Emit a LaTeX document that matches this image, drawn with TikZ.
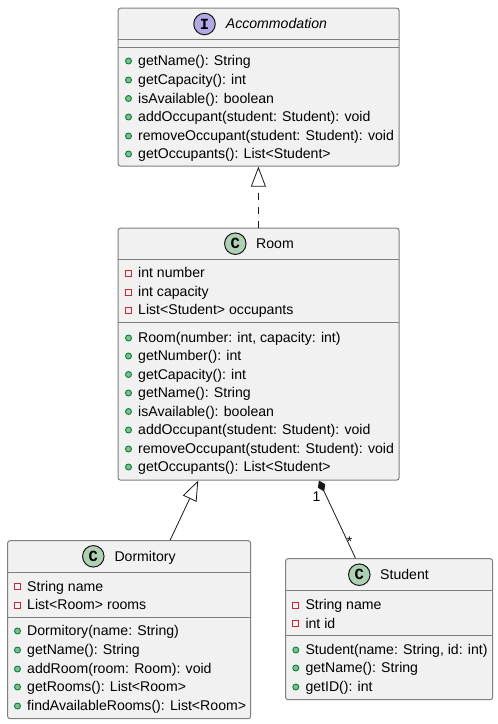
\documentclass[tikz,border=0pt]{standalone}
\usepackage{fontspec}
\setmainfont{Liberation Sans}
\setmonofont{Liberation Mono}
\usetikzlibrary{arrows.meta}
\definecolor{boxfill}{HTML}{F1F1F1}
\definecolor{boxline}{HTML}{7F7F7F}
\definecolor{ink}{HTML}{181818}
\definecolor{classicon}{HTML}{ADD1B2}
\definecolor{ifaceicon}{HTML}{B4A7E5}
\definecolor{pubfill}{HTML}{84BE84}
\definecolor{publine}{HTML}{038048}
\definecolor{privline}{HTML}{C82930}
\tikzset{
  classbox/.style={draw=boxline,fill=boxfill,line width=1pt,rounded corners=2.5pt,inner sep=0pt,anchor=north west},
  sepline/.style={draw=boxline,line width=1pt},
  badge/.style={circle,draw=ink,line width=1pt,minimum size=21.5pt,inner sep=0pt,font=\fontsize{15.5}{16}\selectfont\bfseries\ttfamily},
  title/.style={inner sep=0pt,anchor=base west,font=\fontsize{14.1}{15}\selectfont,text=black},
  rowtext/.style={inner sep=0pt,anchor=base west,font=\fontsize{14.1}{15}\selectfont,text=black},
  pubdot/.style={circle,draw=publine,fill=pubfill,line width=.9pt,minimum size=6pt,inner sep=0pt},
  privsq/.style={rectangle,draw=privline,line width=.9pt,minimum size=6pt,inner sep=0pt},
  conn/.style={draw=ink,line width=.8pt},
  multi/.style={inner sep=0pt,font=\fontsize{14}{15}\selectfont,text=black},
}
\newcommand{\pubm}[4]{\node[pubdot] (#1i) at (#2-9.5,#3) {};\node[rowtext] (#1) at (#2,#3+4.7) {#4};}
\newcommand{\privm}[4]{\node[privsq] (#1i) at (#2-9.5,#3) {};\node[rowtext] (#1) at (#2,#3+4.7) {#4};}
\begin{document}
\begin{tikzpicture}[x=1pt,y=-1pt]
\useasboundingbox (0,0) rectangle (498,724);
\fill[white] (0,0) rectangle (498,724);
% Accommodation
\node[classbox,minimum width=281pt,minimum height=158pt] (acc) at (117.6,7.6) {};
\draw[sepline] (117.6,39.5) -- (398.6,39.5) (117.6,47) -- (398.6,47);
\node[badge,fill=ifaceicon] (accb) at (204.5,24) {I};
\node[title,font=\fontsize{14.1}{15}\selectfont\itshape] (acct) at (225.7,28.7) {Accommodation};
\pubm{a1}{138}{61}{getName(): String}
\pubm{a2}{138}{80}{getCapacity(): int}
\pubm{a3}{138}{98.5}{isAvailable(): boolean}
\pubm{a4}{138}{117}{addOccupant(student: Student): void}
\pubm{a5}{138}{136}{removeOccupant(student: Student): void}
\pubm{a6}{138}{154}{getOccupants(): List<Student>}
% Room
\node[classbox,minimum width=281pt,minimum height=252pt] (room) at (117.6,227.6) {};
\draw[sepline] (117.6,259.3) -- (398.6,259.3) (117.6,322.8) -- (398.6,322.8);
\node[badge,fill=classicon] (roomb) at (235.3,243.7) {C};
\node[title] (roomt) at (256,248.5) {Room};
\privm{r1}{138}{273}{int number}
\privm{r2}{138}{292}{int capacity}
\privm{r3}{138}{310}{List<Student> occupants}
\pubm{r4}{138}{338}{Room(number: int, capacity: int)}
\pubm{r5}{138}{356}{getNumber(): int}
\pubm{r6}{138}{374.5}{getCapacity(): int}
\pubm{r7}{138}{393}{getName(): String}
\pubm{r8}{138}{411.5}{isAvailable(): boolean}
\pubm{r9}{138}{430}{addOccupant(student: Student): void}
\pubm{r10}{138}{449}{removeOccupant(student: Student): void}
\pubm{r11}{138}{467}{getOccupants(): List<Student>}
% Dormitory
\node[classbox,minimum width=243pt,minimum height=178pt] (dorm) at (7.1,540.2) {};
\draw[sepline] (7.1,572) -- (250.1,572) (7.1,617) -- (250.1,617);
\node[badge,fill=classicon] (dormb) at (93.3,556.3) {C};
\node[title] (dormt) at (114.3,561) {Dormitory};
\privm{d1}{27}{586.5}{String name}
\privm{d2}{27}{605}{List<Room> rooms}
\pubm{d3}{27}{631}{Dormitory(name: String)}
\pubm{d4}{27}{650}{getName(): String}
\pubm{d5}{27}{669}{addRoom(room: Room): void}
\pubm{d6}{27}{687}{getRooms(): List<Room>}
\pubm{d7}{27}{706}{findAvailableRooms(): List<Room>}
% Student
\node[classbox,minimum width=207pt,minimum height=141pt] (stud) at (285.1,558.2) {};
\draw[sepline] (285.1,590.3) -- (492.1,590.3) (285.1,635) -- (492.1,635);
\node[badge,fill=classicon] (studb) at (359.3,574.7) {C};
\node[title] (studt) at (380,579.5) {Student};
\privm{s1}{305.3}{605}{String name}
\privm{s2}{305.3}{623.5}{int id}
\pubm{s3}{305.3}{650}{Student(name: String, id: int)}
\pubm{s4}{305.3}{668}{getName(): String}
\pubm{s5}{305.3}{687}{getID(): int}
% Connectors
\draw[conn,dash pattern=on 7pt off 7pt,-{Triangle[open,length=20pt,width=15pt,line width=.8pt]}] ([xshift=140.8pt]room.north west) -- ([xshift=140.8pt]acc.south west);
\draw[conn,-{Triangle[open,length=20pt,width=15pt,line width=.8pt]}] ([xshift=163pt]dorm.north west) -- ([xshift=80.6pt]room.south west);
\draw[conn,-{Diamond[fill=ink,length=12pt,width=8pt]}] ([xshift=70.4pt]stud.north west) -- ([xshift=201.4pt]room.south west);
\node[multi] (m1) at (316.5,497) {1};
\node[multi] (m2) at (349.5,541.5) {*};
\end{tikzpicture}
\end{document}
